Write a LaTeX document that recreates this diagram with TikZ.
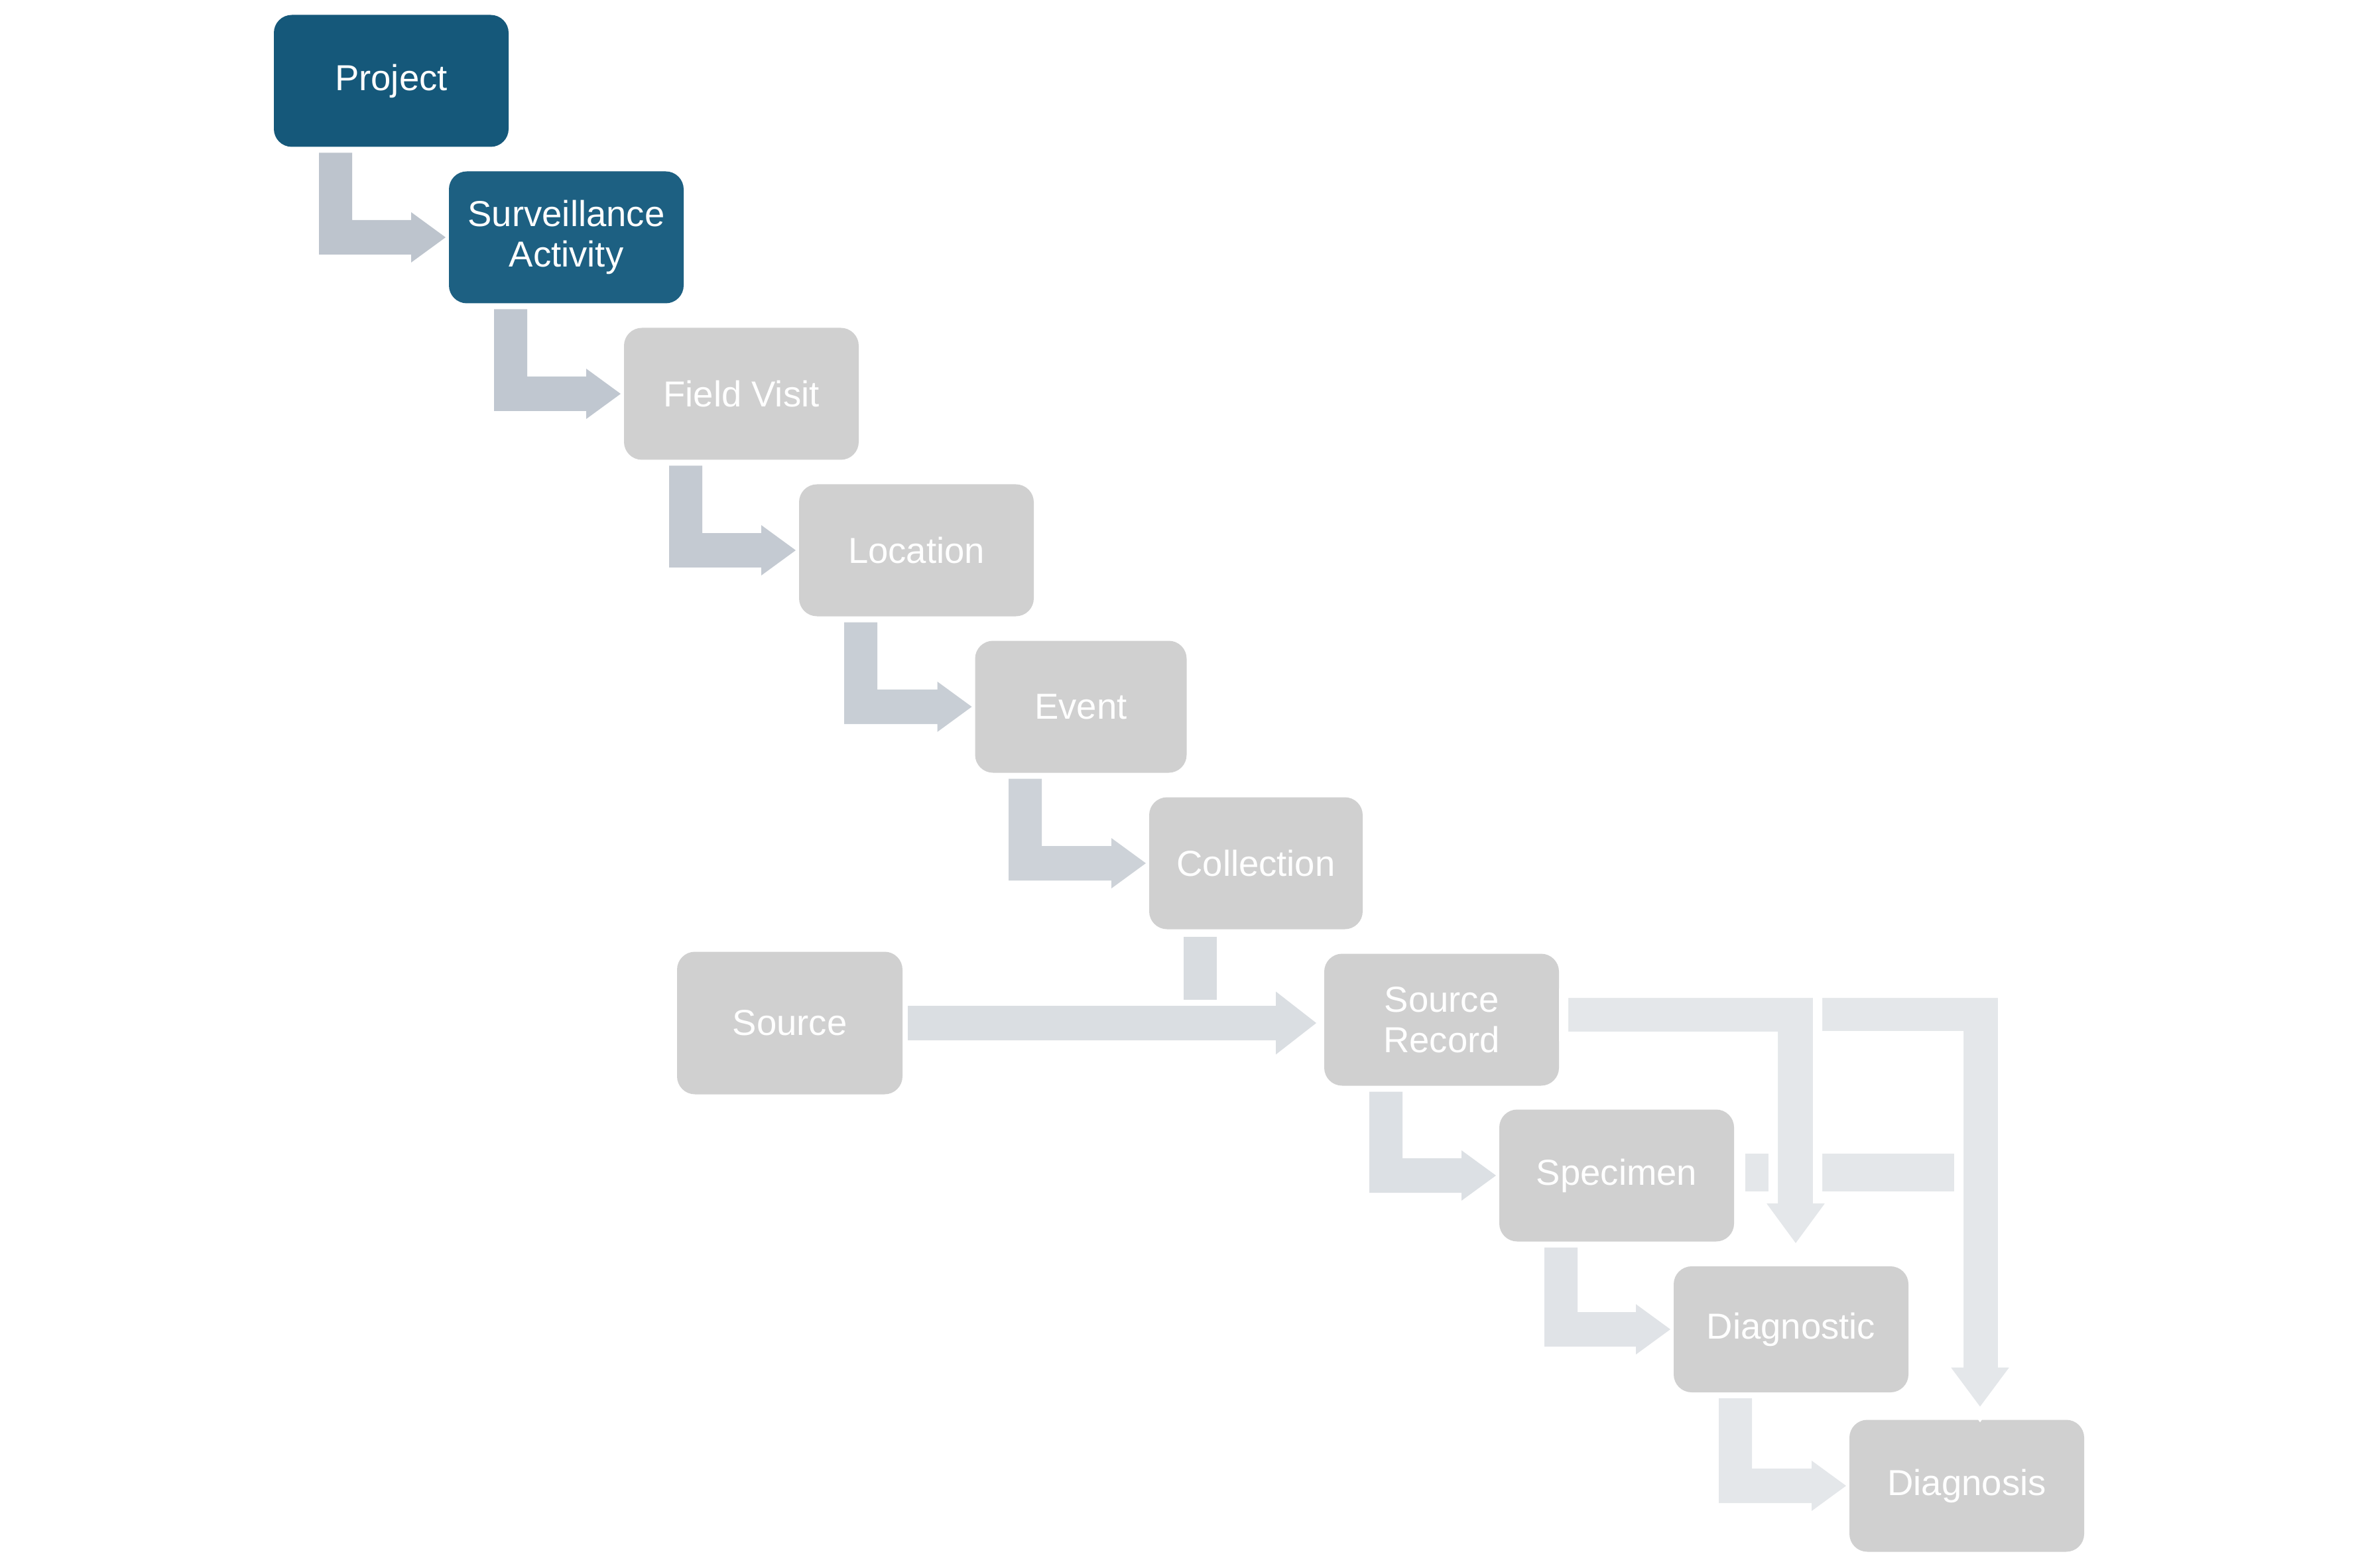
\documentclass[tikz,border=0pt]{standalone}
\usepackage{fontspec}
\setmainfont{Liberation Sans}
\usetikzlibrary{calc}

\definecolor{projblue}{HTML}{15587A}
\definecolor{survblue}{HTML}{1D6082}
\definecolor{boxgrey}{HTML}{D0D0D0}
\definecolor{arrowa}{HTML}{BDC4CD}
\definecolor{arrowb}{HTML}{C0C7D0}
\definecolor{arrowc}{HTML}{C4CAD2}
\definecolor{arrowd}{HTML}{C8CED5}
\definecolor{arrowe}{HTML}{CDD2D8}
\definecolor{arrowf}{HTML}{DCE0E4}
\definecolor{arrowg}{HTML}{E0E3E7}
\definecolor{arrowh}{HTML}{E4E7EA}
\definecolor{arrowstub}{HTML}{D8DCE0}
\definecolor{arrowsrc}{HTML}{DADEE2}

\tikzset{
  stage/.style={rectangle, rounded corners=0.27cm, minimum width=3.54cm, minimum height=1.99cm,
    inner sep=0pt, outer sep=0pt, text=white, align=center,
    font=\fontsize{15.5}{17.5}\selectfont},
  faded/.style={stage, fill=boxgrey},
  gapline/.style={draw=white, line width=0.14cm, line join=miter}
}

% elbow block arrow: from below #1 into the west side of #2
\newcommand{\elbow}[3]{%
  \fill[#3] let \p1=(#1.south), \p2=(#2.west) in
    (\x1-1.09cm,\y1-0.09cm) -- (\x1-0.59cm,\y1-0.09cm) -- (\x1-0.59cm,\y2+0.26cm)
    -- (\x2-0.57cm,\y2+0.26cm) -- (\x2-0.57cm,\y2+0.38cm) -- (\x2-0.05cm,\y2)
    -- (\x2-0.57cm,\y2-0.38cm) -- (\x2-0.57cm,\y2-0.26cm) -- (\x1-1.09cm,\y2-0.26cm) -- cycle;}

\begin{document}
\begin{tikzpicture}
    \useasboundingbox (0,0) rectangle (35.56,-23.65);

    % stages
    \node[stage, fill=projblue] (proj) at (5.90,-1.22) {Project};
    \node[stage, fill=survblue] (surv) at (8.54,-3.58) {Surveillance\\Activity};
    \node[faded] (visit) at (11.18,-5.94) {Field Visit};
    \node[faded] (loc) at (13.82,-8.30) {Location};
    \node[faded, minimum width=3.19cm] (event) at (16.30,-10.66) {Event};
    \node[faded, minimum width=3.22cm] (coll) at (18.94,-13.02) {Collection};
    \node[faded, minimum width=3.40cm, minimum height=2.15cm] (src) at (11.91,-15.43) {Source};
    \node[faded] (srec) at (21.74,-15.38) {Source\\Record};
    \node[faded] (spec) at (24.38,-17.73) {Specimen};
    \node[faded, minimum height=1.90cm] (diagc) at (27.01,-20.05) {Diagnostic};
    \node[faded] (diagn) at (29.66,-22.41) {Diagnosis};

    % elbow arrows down the chain
    \elbow{proj}{surv}{arrowa}
    \elbow{surv}{visit}{arrowb}
    \elbow{visit}{loc}{arrowc}
    \elbow{loc}{event}{arrowd}
    \elbow{event}{coll}{arrowe}
    \elbow{srec}{spec}{arrowf}
    \elbow{spec}{diagc}{arrowg}
    \elbow{diagc}{diagn}{arrowh}

    % collection stub and source arrow
    \fill[arrowstub]
      ($(coll.south)+(-1.09,-0.11)$) rectangle ($(coll.south |- src.east)+(-0.59,0.35)$);
    \fill[arrowsrc] let \p1=(src.east), \p2=(srec.west) in
      (\x1+0.08cm,\y1+0.26cm) -- (\x2-0.73cm,\y1+0.26cm) -- (\x2-0.73cm,\y1+0.475cm) -- (\x2-0.12cm,\y1)
      -- (\x2-0.73cm,\y1-0.475cm) -- (\x2-0.73cm,\y1-0.26cm) -- (\x1+0.08cm,\y1-0.26cm) -- cycle;

    % specimen bar into the diagnosis arrow
    \fill[arrowh] let \p1=(spec.east), \p2=(diagn.north) in
      (\x1+0.17cm,\y1+0.33cm) rectangle (\x2+0.21cm,\y1-0.24cm);

    % source record to diagnosis
    \filldraw[fill=arrowh, gapline] let \p1=(srec.east), \p2=(diagn.north) in
      (\x1+0.07cm,\y1+0.40cm) -- (\x2+0.54cm,\y1+0.40cm) -- (\x2+0.54cm,\y2+0.86cm)
      -- (\x2+0.78cm,\y2+0.86cm) -- (\x2+0.20cm,\y2+0.08cm) -- (\x2-0.38cm,\y2+0.86cm)
      -- (\x2-0.12cm,\y2+0.86cm) -- (\x2-0.12cm,\y1-0.24cm) -- (\x1+0.07cm,\y1-0.24cm) -- cycle;

    % source record to diagnostic
    \filldraw[fill=arrowh, gapline] let \p1=(srec.east), \p2=(diagc.north) in
      (\x1+0.07cm,\y1+0.40cm) -- (\x2+0.40cm,\y1+0.40cm) -- (\x2+0.40cm,\y2+1.02cm)
      -- (\x2+0.65cm,\y2+1.02cm) -- (\x2+0.07cm,\y2+0.23cm) -- (\x2-0.51cm,\y2+1.02cm)
      -- (\x2-0.27cm,\y2+1.02cm) -- (\x2-0.27cm,\y1-0.25cm) -- (\x1+0.07cm,\y1-0.25cm) -- cycle;
\end{tikzpicture}
\end{document}
